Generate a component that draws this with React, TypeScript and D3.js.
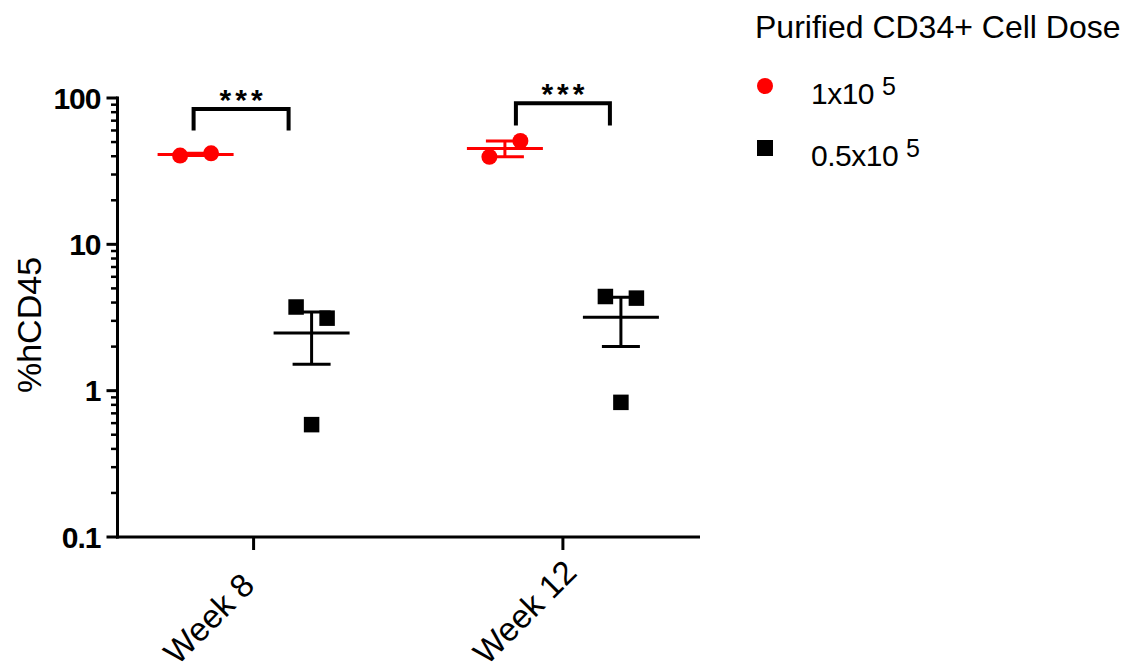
import React from "react";
import * as d3 from "d3";

// ---- data ----
const weeks = ["Week 8", "Week 12"];
const doseNames = ["1x10", "0.5x10"];
const doseExponent = "5";
const doseColors = ["#ff0000", "#000000"];
const legendTitle = "Purified CD34+ Cell Dose";
const yLabel = "%hCD45";

// %hCD45 per mouse, one inner array per week
const highDose = [
  [40.4, 41.9],
  [39.6, 50.9],
];
const lowDose = [
  [3.73, 3.13, 0.586],
  [4.4, 4.29, 0.832],
];

const yTickValues = [0.1, 1, 10, 100];
const yTickLabels = ["0.1", "1", "10", "100"];

// significance brackets (value units)
const sigMarks = ["***", "***"];
const bracketBase = [60, 65];
const bracketTop = [84, 92];

const FONT = "'Liberation Sans', Arial, Helvetica, sans-serif";

const W = 1145;
const H = 671;

// plot frame
const left = 117.5;
const right = 699;
const top = 98;
const bottom = 537;

const x = d3.scalePoint<string>().domain(weeks).range([left, right]).padding(0.44);
const y = d3.scaleLog().domain([0.1, 100]).range([bottom, top]);

const groupOffset = 58;
// bracket ends, relative to week tick
const bracketEnds = [
  [-60, 35],
  [-47, 47],
];

// spread points that would overlap horizontally (scatter with collision avoidance)
function dodge(vals: number[], threshold = 20, gap = 31) {
  const ys = vals.map((v) => y(v));
  const offsets = vals.map(() => 0);
  const used = vals.map(() => false);
  vals.forEach((_, i) => {
    if (used[i]) return;
    const cluster = vals
      .map((_, j) => j)
      .filter((j) => !used[j] && Math.abs(ys[j] - ys[i]) < threshold);
    cluster.forEach((j, k) => {
      offsets[j] = (k - (cluster.length - 1) / 2) * gap;
      used[j] = true;
    });
  });
  return offsets;
}

function Marker({ dose, cx, cy, size }: { dose: number; cx: number; cy: number; size: number }) {
  if (dose === 0) {
    return <circle cx={cx} cy={cy} r={size / 2} fill={doseColors[0]} />;
  }
  return <rect x={cx - size / 2} y={cy - size / 2} width={size} height={size} fill={doseColors[1]} />;
}

export default function App() {
  // minor ticks for the log axis
  const minorTicks: number[] = [];
  for (let e = -1; e < 2; e++) {
    for (let m = 2; m <= 9; m++) minorTicks.push(m * Math.pow(10, e));
  }

  const groups = weeks.flatMap((w, i) => [
    { week: w, dose: 0, vals: highDose[i], cx: (x(w) as number) - groupOffset },
    { week: w, dose: 1, vals: lowDose[i], cx: (x(w) as number) + groupOffset },
  ]);

  return (
    <svg
      width={W}
      height={H}
      style={{ position: "absolute", left: 0, top: 0, background: "#fff" }}
      fontFamily={FONT}
    >
      {/* y axis */}
      <line x1={left} x2={left} y1={bottom + 1.5} y2={top - 1.5} stroke="#000" strokeWidth={3} />
      {minorTicks.map((t) => (
        <line key={"m" + t} x1={left - 6.5} x2={left} y1={y(t)} y2={y(t)} stroke="#000" strokeWidth={2.5} />
      ))}
      {yTickValues.map((t, i) => (
        <g key={"t" + t}>
          <line x1={left - 11} x2={left} y1={y(t)} y2={y(t)} stroke="#000" strokeWidth={3} />
          <text
            x={left - 17}
            y={y(t)}
            dy="0.36em"
            textAnchor="end"
            fontSize={30}
            fontWeight="bold"
            letterSpacing={-1}
          >
            {yTickLabels[i]}
          </text>
        </g>
      ))}
      <text transform={`translate(41,325) rotate(-90)`} textAnchor="middle" fontSize={34}>
        {yLabel}
      </text>

      {/* x axis */}
      <line x1={left - 1.5} x2={right + 1} y1={bottom} y2={bottom} stroke="#000" strokeWidth={3} />
      {weeks.map((w) => (
        <g key={w}>
          <line x1={x(w)} x2={x(w)} y1={bottom} y2={bottom + 13} stroke="#000" strokeWidth={3} />
          <text
            transform={`translate(${(x(w) as number) - 76},${bottom + 129}) rotate(-45)`}
            textAnchor="start"
            fontSize={33}
          >
            {w}
          </text>
        </g>
      ))}

      {/* points, mean and SEM */}
      {groups.map((g, gi) => {
        const offs = dodge(g.vals);
        const m = d3.mean(g.vals) as number;
        const sem = (d3.deviation(g.vals) as number) / Math.sqrt(g.vals.length);
        const color = doseColors[g.dose];
        return (
          <g key={"g" + gi}>
            {g.vals.map((v, j) => (
              <Marker key={j} dose={g.dose} cx={g.cx + offs[j]} cy={y(v)} size={g.dose === 0 ? 16 : 15.5} />
            ))}
            <line x1={g.cx} x2={g.cx} y1={y(m - sem)} y2={y(m + sem)} stroke={color} strokeWidth={3} />
            <line x1={g.cx - 19} x2={g.cx + 19} y1={y(m + sem)} y2={y(m + sem)} stroke={color} strokeWidth={3} />
            <line x1={g.cx - 19} x2={g.cx + 19} y1={y(m - sem)} y2={y(m - sem)} stroke={color} strokeWidth={3} />
            <line x1={g.cx - 38} x2={g.cx + 38} y1={y(m)} y2={y(m)} stroke={color} strokeWidth={3} />
          </g>
        );
      })}

      {/* significance brackets */}
      {weeks.map((w, i) => {
        const x0 = (x(w) as number) + bracketEnds[i][0];
        const x1 = (x(w) as number) + bracketEnds[i][1];
        const yb = y(bracketBase[i]);
        const yt = y(bracketTop[i]);
        return (
          <g key={"b" + i}>
            <path
              d={`M${x0},${yb}V${yt}H${x1}V${yb}`}
              fill="none"
              stroke="#000"
              strokeWidth={4}
            />
            <text
              x={(x0 + x1) / 2 + 2}
              y={yt + 1}
              textAnchor="middle"
              fontSize={30}
              fontWeight="bold"
              letterSpacing={4}
            >
              {sigMarks[i]}
            </text>
          </g>
        );
      })}

      {/* legend */}
      <text x={755} y={38} fontSize={32}>
        {legendTitle}
      </text>
      {doseNames.map((name, i) => (
        <g key={name}>
          <Marker dose={i} cx={765} cy={86 + i * 62} size={16} />
          <text x={811} y={104 + i * 62} fontSize={30} letterSpacing={-0.5}>
            {name}
            <tspan dx={8} dy={-9} fontSize={25}>
              {doseExponent}
            </tspan>
          </text>
        </g>
      ))}
    </svg>
  );
}
